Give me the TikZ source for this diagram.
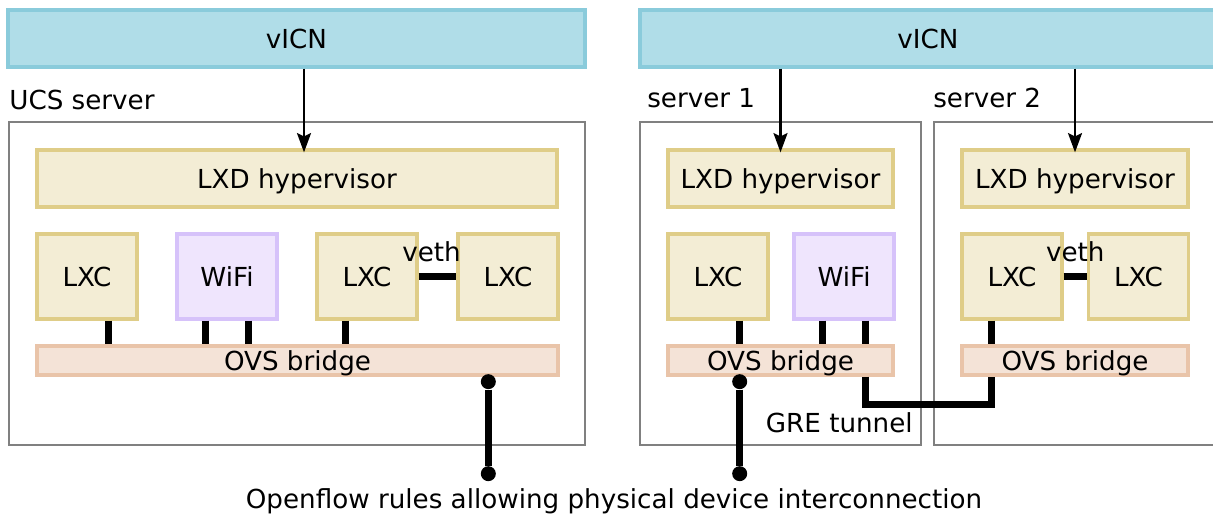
\documentclass[tikz,border=0pt]{standalone}
\usepackage{fontspec}
\setmainfont{DejaVu Sans}
\usetikzlibrary{positioning,calc,arrows.meta}
\definecolor{vicnfill}{HTML}{B0DDE8}
\definecolor{vicnline}{HTML}{8ACBDB}
\definecolor{lxdfill}{HTML}{F3EDD5}
\definecolor{lxdline}{HTML}{DFCD88}
\definecolor{wififill}{HTML}{EFE5FD}
\definecolor{wifiline}{HTML}{D6C2FA}
\definecolor{ovsfill}{HTML}{F4E3D7}
\definecolor{ovsline}{HTML}{E9C4A9}
\begin{document}
\begin{tikzpicture}[x=0.02cm,y=-0.02cm,
 font=\fontsize{14.9}{17}\selectfont,
 vicn/.style={draw=vicnline,fill=vicnfill,line width=1.9pt,inner sep=0,minimum height=1.14cm,text depth=0pt},
 server/.style={draw=gray,line width=1.2pt,inner sep=0,minimum height=6.46cm},
 lxd/.style={draw=lxdline,fill=lxdfill,line width=1.9pt,inner sep=0,minimum height=1.14cm,text depth=0pt},
 ctr/.style={lxd,minimum width=2cm,minimum height=1.7cm},
 wifi/.style={ctr,draw=wifiline,fill=wififill},
 ovs/.style={draw=ovsline,fill=ovsfill,line width=1.9pt,inner sep=0,minimum height=0.58cm,text depth=0pt},
 lbl/.style={inner sep=0},
 link/.style={line width=3.8pt},
 arr/.style={line width=1.3pt,-{Stealth[length=11pt,width=8pt,inset=2pt]}},
 dot/.style={circle,fill=black,inner sep=0,minimum size=0.3cm}]
\useasboundingbox (0,0) rectangle (1213,517);
\clip (0,0) rectangle (1213,517);
% top controllers
\node[vicn,minimum width=11.54cm] (vicnA) at (296.5,38.5) {vICN};
\node[vicn,minimum width=11.52cm] (vicnB) at (928,38.5) {vICN};
% servers
\node[server,minimum width=11.52cm] (ucs) at (297,283.5) {};
\node[server,minimum width=5.62cm] (srv1) at (780.5,283.5) {};
\node[server,minimum width=5.68cm] (srv2) at (1076,283.5) {};
\node[lbl,above right=0.22cm and 0.02cm of ucs.north west] {UCS server};
\node[lbl,above right=0.26cm and 0.16cm of srv1.north west] {server 1};
\node[lbl,above right=0.26cm and 0cm of srv2.north west] {server 2};
% hypervisors
\node[lxd,minimum width=10.4cm] (lxdA) at (297,178.5) {LXD hypervisor};
\node[lxd,minimum width=4.5cm] (lxdS) at (780.5,178.5) {LXD hypervisor};
\node[lxd,minimum width=4.52cm] (lxdT) at (1075,178.5) {LXD hypervisor};
% containers
\foreach \n/\x/\t in {lxcA/87/LXC,lxcB/367/LXC,lxcC/508/LXC,lxcS/718/LXC,lxcT/1012/LXC,lxcU/1138.5/LXC}
  \node[ctr] (\n) at (\x,276.5) {\t};
\node[wifi] (wifiA) at (227,276.5) {WiFi};
\node[wifi] (wifiS) at (844,276.5) {WiFi};
% bridges
\node[ovs,minimum width=10.42cm] (ovsA) at (297.5,360.5) {OVS bridge};
\node[ovs,minimum width=4.5cm] (ovsS) at (780.5,360.5) {OVS bridge};
\node[ovs,minimum width=4.52cm] (ovsT) at (1075,360.5) {OVS bridge};
% links to bridges
\foreach \n/\f/\b/\k in {lxcA/.71/ovsA/1,wifiA/.29/ovsA/2,wifiA/.71/ovsA/3,lxcB/.29/ovsA/4,
  lxcS/.71/ovsS/5,wifiS/.29/ovsS/6,wifiS/.71/ovsS/7,lxcT/.3/ovsT/8}
  \draw[link] ($(\n.south west)!\f!(\n.south east)$) coordinate (l\k) -- (l\k |- \b.north);
\draw[link] (lxcB) -- (lxcC) node[lbl,midway,above=0.22cm,xshift=-0.12cm] {veth};
\draw[link] (lxcT) -- (lxcU) node[lbl,midway,above=0.22cm] {veth};
% GRE tunnel
\draw[link] (l7 |- ovsS.south) |- ($(l8 |- ovsT.south)+(0,28)$) coordinate (gre) -- (l8 |- ovsT.south);
\node[lbl,anchor=east] at ($(srv1.south east)+(-9,-23)$) {GRE tunnel};
% control arrows
\coordinate (tA) at ($(lxdA.north)+(7,4)$);
\draw[arr] (tA |- vicnA.south) -- (tA);
\draw[arr] (vicnB.south -| lxdS.north) -- ($(lxdS.north)+(0,4)$);
\draw[arr] (vicnB.south -| lxdT.north) -- ($(lxdT.north)+(0,4)$);
% openflow
\node[dot] (ofA) at ($(ovsA.south west)!.864!(ovsA.south east)+(0,5)$) {};
\node[dot] (ofB) at ($(ofA)+(0,92)$) {};
\node[dot] (ofC) at ($(l5 |- ovsS.south)+(0,5)$) {};
\node[dot] (ofD) at ($(ofC)+(0,92)$) {};
\draw[link] (ofA) -- (ofB);
\draw[link] (ofC) -- (ofD);
\node[lbl] (rules) at ($(ofB)!.5!(ofD)+(0,28)$) {Openflow rules allowing physical device interconnection};
\end{tikzpicture}
\end{document}
